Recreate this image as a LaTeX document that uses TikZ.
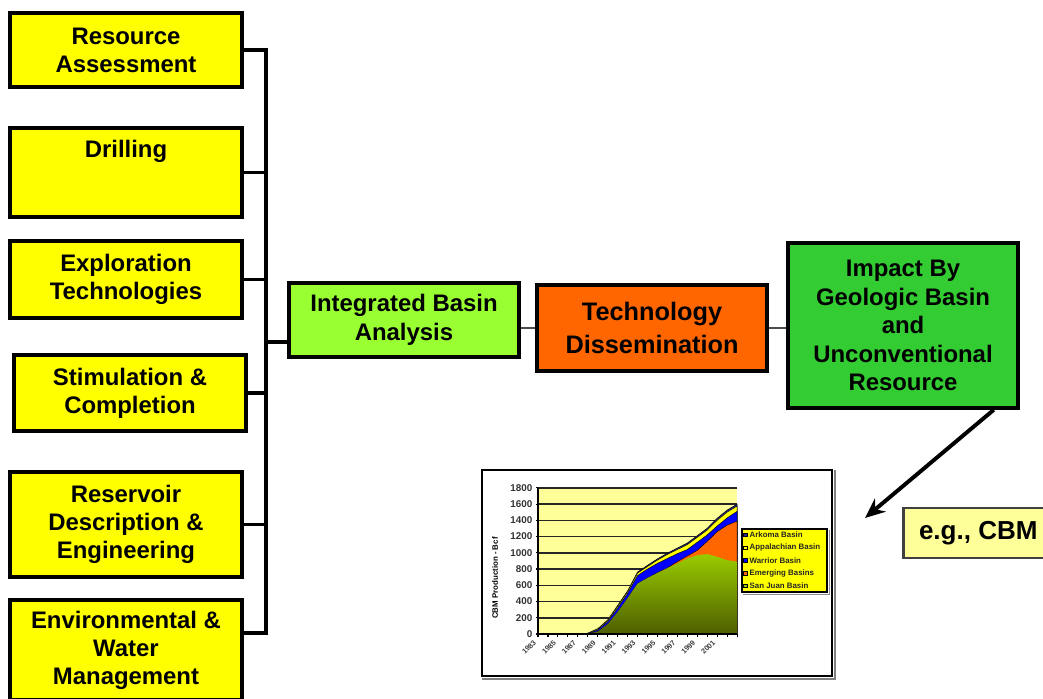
\documentclass[tikz,border=0pt]{standalone}
\usepackage{fontspec}
\setmainfont{Liberation Sans}
\usepackage{tikz}
\usetikzlibrary{arrows.meta}
\definecolor{boxyellow}{HTML}{FFFF00}
\definecolor{lightyellow}{HTML}{FFFF99}
\definecolor{ibagreen}{HTML}{99FF33}
\definecolor{tdorange}{HTML}{FF6600}
\definecolor{impgreen}{HTML}{33CC33}
\definecolor{warblue}{HTML}{0000FF}
\definecolor{arkcol}{HTML}{2A2A8F}
\definecolor{sjlight}{HTML}{99CC00}
\definecolor{sjdark}{HTML}{4D5E00}
\newcommand{\pxu}{0.025cm}

\begin{document}
\begin{tikzpicture}[x=0.025cm,y=-0.025cm]
	\useasboundingbox (0,0) rectangle (1043,698);
	\tikzstyle{leftbox} = [draw=black,line width=2.5pt,fill=boxyellow,minimum width=232*\pxu,align=center,inner sep=0pt,font=\fontsize{17}{20}\selectfont\bfseries]
	\tikzstyle{bigbox} = [draw=black,line width=2.5pt,minimum width=230*\pxu,align=center,inner sep=0pt,font=\fontsize{17}{20.5}\selectfont\bfseries]
	\tikzstyle{bus} = [line width=2.2pt,color=black]
	\tikzstyle{link} = [line width=2pt,color=black!70]
	\tikzstyle{gridline} = [line width=1.1pt,color=black!85]
	\tikzstyle{axisline} = [line width=0.8pt,color=black]
	\tikzstyle{ticklab} = [inner sep=1pt,font=\fontsize{7}{8}\selectfont\bfseries,text=black!80]
	\tikzstyle{yearlab} = [inner sep=0pt,font=\fontsize{5.2}{6}\selectfont\bfseries,text=black!75]
	\tikzstyle{legmark} = [draw=black,line width=0.4pt,minimum size=3.5*\pxu,inner sep=0pt]
	\tikzstyle{legtext} = [inner sep=1pt,font=\fontsize{5.6}{6.5}\selectfont\bfseries,text=black!85]

	% program areas
	\node[leftbox,minimum height=74*\pxu] (res) at (126,50) {Resource\\Assessment};
	\node[leftbox,minimum height=89*\pxu,label={[anchor=north,inner sep=2pt,yshift=-7.5pt,font=\fontsize{17}{20}\selectfont\bfseries]north:Drilling}] (drill) at (126,172.5) {};
	\node[leftbox,minimum height=77*\pxu] (explor) at (126,279.5) {Exploration\\Technologies};
	\node[leftbox,minimum height=76*\pxu] (stim) at (130,393) {Stimulation \&\\Completion};
	\node[leftbox,minimum height=105*\pxu] (reserv) at (126,524.5) {Reservoir\\Description \&\\Engineering};
	\node[leftbox,minimum height=100*\pxu] (env) at (126,650) {Environmental \&\\Water\\Management};

	% chain
	\node[bigbox,fill=ibagreen,minimum height=74*\pxu] (iba) at (404,320) {Integrated Basin\\Analysis};
	\node[bigbox,fill=tdorange,minimum height=86*\pxu,font=\fontsize{18}{23.5}\selectfont\bfseries] (td) at (652,328) {Technology\\Dissemination};
	\node[bigbox,fill=impgreen,minimum height=165*\pxu,font=\fontsize{17}{20.3}\selectfont\bfseries] (impact) at (903,325.5) {Impact By\\Geologic Basin\\and\\Unconventional\\Resource};

	% bus on the left
	\coordinate (bustop) at (266,47);
	\coordinate (busbot) at (268,633);
	\coordinate (busmid) at (266,342);
	\draw[bus] (res.east) -- (res.east -| bustop) -- (bustop |- busbot) -- (env.east |- busbot);
	\foreach \n in {drill,explor,stim,reserv}
		\draw[bus] (\n.east) -- (\n.east -| bustop);
	\draw[bus] (busmid) -- (busmid -| iba.west);
	\draw[link] (td.west) -- (td.west -| iba.east);
	\draw[link] (td.east) -- (td.east -| impact.west);

	% example box and arrow
	\node[draw=black!75,line width=1.8pt,fill=lightyellow,anchor=west,minimum width=150*\pxu,minimum height=50*\pxu,font=\fontsize{18.5}{22}\selectfont\bfseries] (egcbm) at (902,533) {e.g., CBM};
	\coordinate (cbmtip) at (865,518);
	\draw[-{Stealth[length=20*\pxu,width=17*\pxu]},line width=2.8pt] ([xshift=-26*\pxu]impact.south east) -- (cbmtip);

	% production chart
	\node[draw=black,line width=1.6pt,fill=white,minimum width=350*\pxu,minimum height=206*\pxu] (cbmchart) at (657,573) {};
	\draw[black!50,line width=1.6pt] ([shift={(1.5,2)}]cbmchart.south west) -- ([shift={(2,2)}]cbmchart.south east) -- ([shift={(2,1.5)}]cbmchart.north east);
	\begin{scope}[shift={(538,634)},x=0.24875cm,y=0.0020278cm]
		\fill[lightyellow] (0,0) rectangle (20,1800);
		\foreach \v in {200,400,...,1800}
			\draw[gridline] (0,\v) -- (20,\v);
		\filldraw[fill=arkcol,draw=black,line width=0.4pt] (0,0) -- plot coordinates {(0,0) (1,0) (2,0) (3,0) (4,3) (5,10) (6,65) (7,172) (8,350) (9,530) (10,762) (11,845) (12,925) (13,995) (14,1058) (15,1120) (16,1210) (17,1302) (18,1425) (19,1525) (20,1598)} -- (20,0) -- cycle;
		\filldraw[fill=boxyellow,draw=black,line width=0.3pt] (0,0) -- plot coordinates {(0,0) (1,0) (2,0) (3,0) (4,2) (5,8) (6,60) (7,165) (8,340) (9,520) (10,750) (11,830) (12,910) (13,980) (14,1040) (15,1100) (16,1190) (17,1280) (18,1400) (19,1500) (20,1575)} -- (20,0) -- cycle;
		\filldraw[fill=warblue,draw=black,line width=0.3pt] (0,0) -- plot coordinates {(0,0) (1,0) (2,0) (3,0) (4,0) (5,5) (6,50) (7,150) (8,320) (9,500) (10,720) (11,800) (12,870) (13,930) (14,990) (15,1040) (16,1130) (17,1220) (18,1330) (19,1430) (20,1510)} -- (20,0) -- cycle;
		\filldraw[fill=tdorange,draw=black,line width=0.3pt] (0,0) -- plot coordinates {(0,0) (1,0) (2,0) (3,0) (4,0) (5,2) (6,30) (7,120) (8,270) (9,440) (10,620) (11,690) (12,755) (13,815) (14,890) (15,960) (16,1030) (17,1140) (18,1260) (19,1340) (20,1390)} -- (20,0) -- cycle;
		\shade[top color=sjlight,bottom color=sjdark] (0,0) -- plot coordinates {(0,0) (1,0) (2,0) (3,0) (4,0) (5,2) (6,30) (7,120) (8,270) (9,440) (10,620) (11,690) (12,750) (13,810) (14,870) (15,930) (16,970) (17,985) (18,950) (19,910) (20,890)} -- (20,0) -- cycle;
		\draw[axisline] (20,0) -- (0,0) -- (0,1800);
		\foreach \i in {0,...,20}
			\draw[axisline] (\i,0) -- (\i,-40);
		\foreach \v in {0,200,...,1800}{
			\draw[axisline] (0,\v) -- (-0.25,\v);
			\node[ticklab,anchor=east] (ylab\v) at (-0.4,\v) {\v};
		}
		\foreach \yr [count=\k from 0] in {1983,1985,...,2001}
			\node[yearlab,rotate=45,anchor=east] (xlab\k) at (2*\k-0.3,-90) {\yr};
	\end{scope}
	\node[rotate=90,inner sep=0pt,font=\fontsize{5.6}{6.5}\selectfont\bfseries] (ytitle) at (495,578) {CBM Production - Bcf};

	% legend
	\node[draw=black,line width=0.8pt,fill=boxyellow,minimum width=85*\pxu,minimum height=63*\pxu] (legend) at (784.5,560.5) {};
	\draw[black!45,line width=1.2pt] ([shift={(1.5,2)}]legend.south west) -- ([shift={(2,2)}]legend.south east) -- ([shift={(2,1.5)}]legend.north east);
	\foreach \name/\col [count=\k from 0] in {Arkoma Basin/arkcol,Appalachian Basin/boxyellow,Warrior Basin/warblue,Emerging Basins/tdorange,San Juan Basin/sjlight}{
		\node[legmark,fill=\col] (lmark\k) at (745.5,535+12.7*\k) {};
		\node[legtext,anchor=west] (ltext\k) at (748,535+12.7*\k) {\name};
	}
\end{tikzpicture}
\end{document}
